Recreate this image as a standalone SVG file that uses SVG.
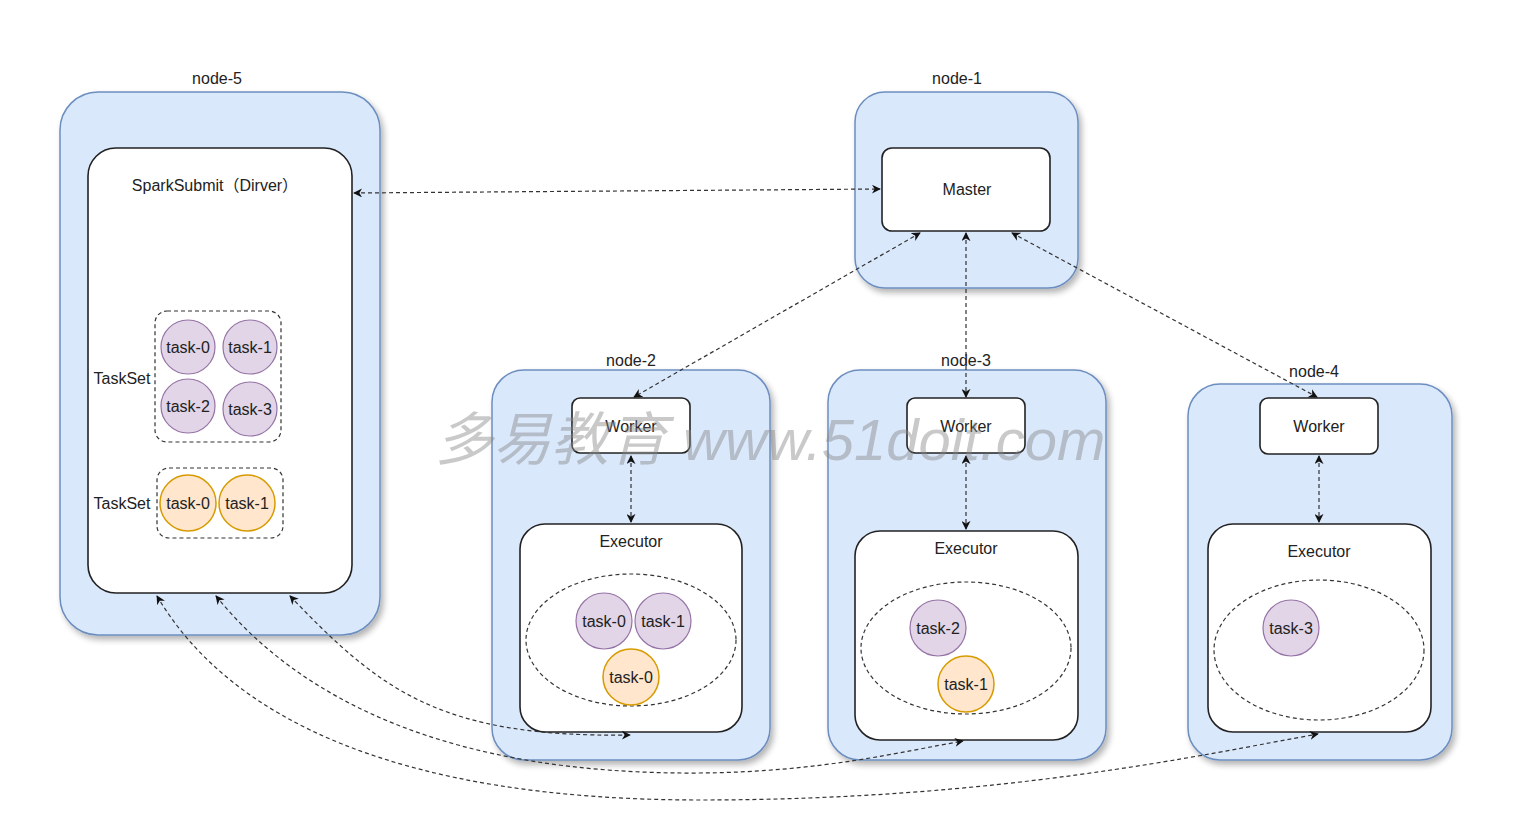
<svg xmlns="http://www.w3.org/2000/svg" width="1530" height="838" viewBox="0 0 1530 838">
<defs>
<filter id="sh" x="-10%" y="-10%" width="125%" height="125%">
<feGaussianBlur in="SourceAlpha" stdDeviation="3"/>
<feOffset dx="3" dy="4" result="b"/>
<feComponentTransfer><feFuncA type="linear" slope="0.3"/></feComponentTransfer>
<feMerge><feMergeNode/><feMergeNode in="SourceGraphic"/></feMerge>
</filter>
<marker id="ar" viewBox="0 0 10 10" refX="9" refY="5" markerWidth="9" markerHeight="9" markerUnits="userSpaceOnUse" orient="auto-start-reverse">
<path d="M0,0 L10,5 L0,10 L3,5 Z" fill="#111"/>
</marker>
</defs>
<style>
.outer{fill:#dae8fc;stroke:#6c8ebf;stroke-width:1.5;filter:url(#sh)}
.box{fill:#fff;stroke:#222;stroke-width:1.6}
.dash{fill:none;stroke:#333;stroke-width:1.2;stroke-dasharray:4 3}
.p{fill:#e1d5e7;stroke:#9673a6;stroke-width:1.2}
.o{fill:#ffe6cc;stroke:#d79b00;stroke-width:1.5}
text{font-family:"Liberation Sans",Arial,"Noto Sans CJK SC",sans-serif;font-size:16px;fill:#222;text-anchor:middle;dominant-baseline:central}
.c{fill:none;stroke:#333;stroke-width:1.2;stroke-dasharray:4 3;marker-start:url(#ar);marker-end:url(#ar)}
.wm{font-family:"Liberation Sans","Noto Sans CJK SC",sans-serif;font-size:58px;font-style:italic;fill:#888;opacity:0.45;text-anchor:start;dominant-baseline:alphabetic}
</style>
<rect width="1530" height="838" fill="#fff"/>

<g id="node-5">
<rect class="outer" x="60" y="92" width="320" height="543" rx="38"/>
<text x="217" y="78">node-5</text>
<rect class="box" x="88" y="148" width="264" height="445" rx="28"/>
<text x="215" y="185">SparkSubmit（Dirver）</text>
<rect class="dash" x="155" y="311" width="126" height="131" rx="12"/>
<text x="122" y="378">TaskSet</text>
<circle class="p" cx="188" cy="347" r="27"/><text x="188" y="347">task-0</text>
<circle class="p" cx="250" cy="347" r="27"/><text x="250" y="347">task-1</text>
<circle class="p" cx="188" cy="406" r="27"/><text x="188" y="406">task-2</text>
<circle class="p" cx="250" cy="409" r="27"/><text x="250" y="409">task-3</text>
<rect class="dash" x="157" y="468" width="126" height="70" rx="12"/>
<text x="122" y="503">TaskSet</text>
<circle class="o" cx="188" cy="503" r="28"/><text x="188" y="503">task-0</text>
<circle class="o" cx="247" cy="503" r="28"/><text x="247" y="503">task-1</text>
</g>

<g id="node-1">
<rect class="outer" x="855" y="92" width="223" height="196" rx="30"/>
<text x="957" y="78">node-1</text>
<rect class="box" x="882" y="148" width="168" height="83" rx="10"/>
<text x="967" y="189">Master</text>
</g>

<g id="node-2">
<rect class="outer" x="492" y="370" width="278" height="390" rx="32"/>
<text x="631" y="360">node-2</text>
<rect class="box" x="572" y="398" width="118" height="55" rx="8"/>
<text x="631" y="426">Worker</text>
<rect class="box" x="520" y="524" width="222" height="208" rx="25"/>
<text x="631" y="541">Executor</text>
<ellipse class="dash" cx="631" cy="640" rx="105" ry="66"/>
<circle class="p" cx="604" cy="621" r="28"/><text x="604" y="621">task-0</text>
<circle class="p" cx="663" cy="621" r="28"/><text x="663" y="621">task-1</text>
<circle class="o" cx="631" cy="677" r="28"/><text x="631" y="677">task-0</text>
</g>

<g id="node-3">
<rect class="outer" x="828" y="370" width="278" height="390" rx="32"/>
<text x="966" y="360">node-3</text>
<rect class="box" x="907" y="398" width="118" height="55" rx="8"/>
<text x="966" y="426">Worker</text>
<rect class="box" x="855" y="531" width="223" height="209" rx="25"/>
<text x="966" y="548">Executor</text>
<ellipse class="dash" cx="966" cy="648" rx="105" ry="66"/>
<circle class="p" cx="938" cy="628" r="28"/><text x="938" y="628">task-2</text>
<circle class="o" cx="966" cy="684" r="28"/><text x="966" y="684">task-1</text>
</g>

<g id="node-4">
<rect class="outer" x="1188" y="384" width="264" height="376" rx="32"/>
<text x="1314" y="371">node-4</text>
<rect class="box" x="1260" y="398" width="118" height="56" rx="8"/>
<text x="1319" y="426">Worker</text>
<rect class="box" x="1208" y="524" width="223" height="208" rx="25"/>
<text x="1319" y="551">Executor</text>
<ellipse class="dash" cx="1319" cy="650" rx="105" ry="70"/>
<circle class="p" cx="1291" cy="628" r="28"/><text x="1291" y="628">task-3</text>
</g>

<g id="connectors">
<path class="c" d="M354,193 L880,189"/>
<path class="c" d="M920,233 L634,397"/>
<path class="c" d="M966,233 L966,397"/>
<path class="c" d="M1012,233 L1317,397"/>
<path class="c" d="M631,456 L631,522"/>
<path class="c" d="M966,456 L966,529"/>
<path class="c" d="M1319,456 L1319,522"/>
<path class="c" d="M290,596 C380,690 440,738 630,735"/>
<path class="c" d="M216,596 C300,700 450,775 700,773 C820,772 900,752 963,741"/>
<path class="c" d="M157,596 C230,720 400,800 700,800 C1000,800 1200,755 1318,734"/>
</g>

<text class="wm" x="435" y="460">多易教育 www.51doit.com</text>
</svg>
